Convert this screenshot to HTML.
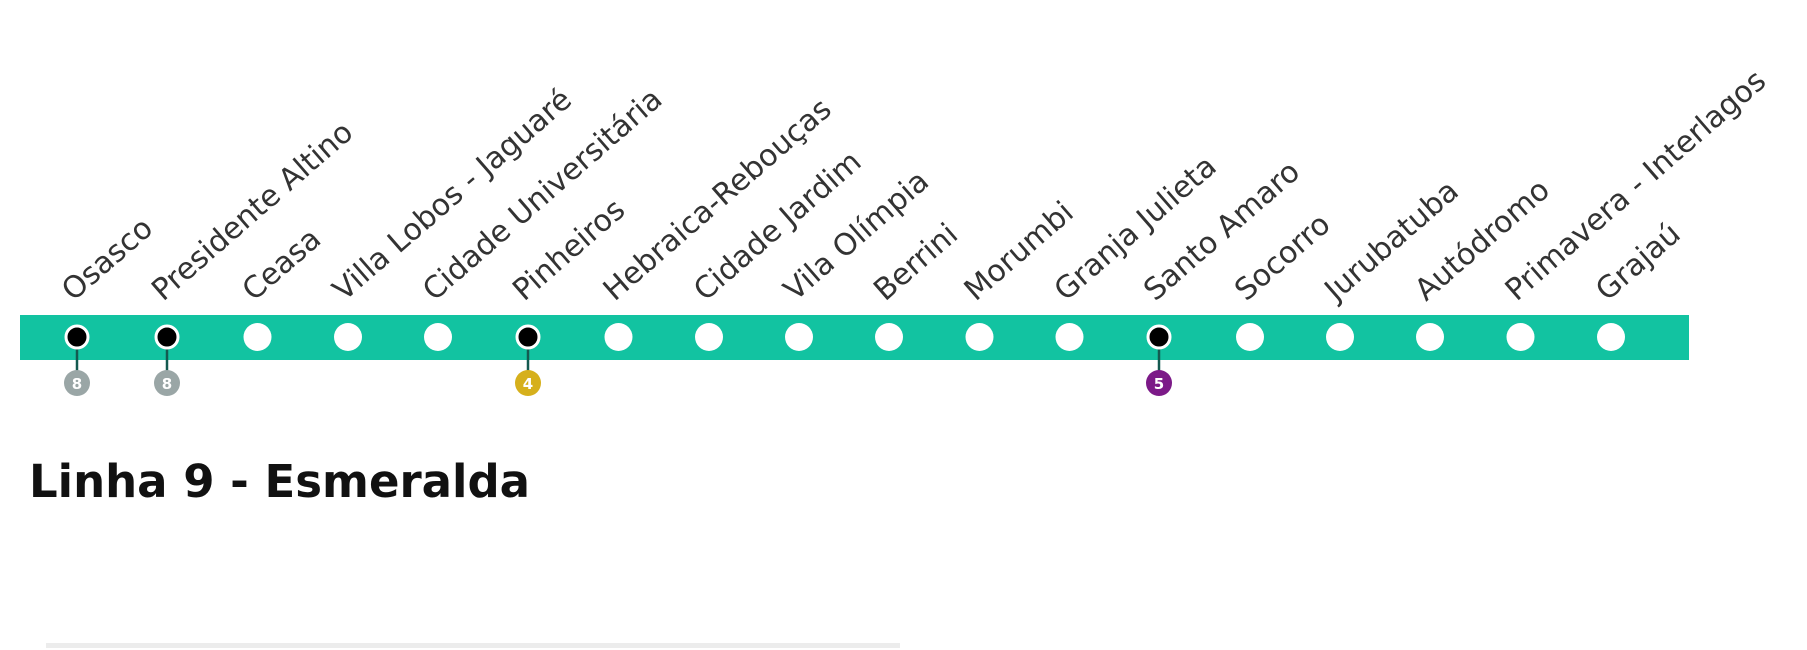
<!DOCTYPE html>
<html><head><meta charset="utf-8"><style>
html,body{margin:0;padding:0;background:#fff;width:1807px;height:650px;overflow:hidden}
svg{display:block}
text{font-family:"DejaVu Sans","Liberation Sans",sans-serif}
</style></head><body>
<svg width="1807" height="650" viewBox="0 0 1807 650" xmlns="http://www.w3.org/2000/svg">
<rect x="20" y="315" width="1669" height="45" fill="#12c3a1"/>
<g stroke="#145a50" stroke-width="2.5">
<line x1="77" y1="337" x2="77" y2="383"/>
<line x1="167" y1="337" x2="167" y2="383"/>
<line x1="528" y1="337" x2="528" y2="383"/>
<line x1="1159" y1="337" x2="1159" y2="383"/>
</g>
<g fill="#fff">
<circle cx="257.5" cy="337" r="14"/><circle cx="348" cy="337" r="14"/><circle cx="438" cy="337" r="14"/>
<circle cx="618.5" cy="337" r="14"/><circle cx="709" cy="337" r="14"/><circle cx="799" cy="337" r="14"/>
<circle cx="889" cy="337" r="14"/><circle cx="979.5" cy="337" r="14"/><circle cx="1069.5" cy="337" r="14"/>
<circle cx="1250" cy="337" r="14"/><circle cx="1340" cy="337" r="14"/><circle cx="1430" cy="337" r="14"/>
<circle cx="1520.5" cy="337" r="14"/><circle cx="1611" cy="337" r="14"/>
</g>
<g fill="#000" stroke="#fff" stroke-width="3">
<circle cx="77" cy="337" r="11"/><circle cx="167" cy="337" r="11"/><circle cx="528" cy="337" r="11"/><circle cx="1159" cy="337" r="11"/>
</g>
<g font-size="15" font-weight="bold" fill="#fff" text-anchor="middle">
<circle cx="77" cy="383" r="13" fill="#9aa6a6"/><text x="77" y="389">8</text>
<circle cx="167" cy="383" r="13" fill="#9aa6a6"/><text x="167" y="389">8</text>
<circle cx="528" cy="383" r="13" fill="#d6b01c"/><text x="528" y="389">4</text>
<circle cx="1159" cy="383" r="13" fill="#7c1a88"/><text x="1159" y="389">5</text>
</g>
<g font-size="30" fill="#333">
<text transform="translate(73,302) rotate(-41)">Osasco</text>
<text transform="translate(163,302) rotate(-41)">Presidente Altino</text>
<text transform="translate(253.5,302) rotate(-41)">Ceasa</text>
<text transform="translate(344,302) rotate(-41)">Villa Lobos - Jaguaré</text>
<text transform="translate(434,302) rotate(-41)">Cidade Universitária</text>
<text transform="translate(524,302) rotate(-41)">Pinheiros</text>
<text transform="translate(614.5,302) rotate(-41)">Hebraica-Rebouças</text>
<text transform="translate(705,302) rotate(-41)">Cidade Jardim</text>
<text transform="translate(795,302) rotate(-41)">Vila Olímpia</text>
<text transform="translate(885,302) rotate(-41)">Berrini</text>
<text transform="translate(975.5,302) rotate(-41)">Morumbi</text>
<text transform="translate(1065.5,302) rotate(-41)">Granja Julieta</text>
<text transform="translate(1155,302) rotate(-41)">Santo Amaro</text>
<text transform="translate(1246,302) rotate(-41)">Socorro</text>
<text transform="translate(1336,302) rotate(-41)">Jurubatuba</text>
<text transform="translate(1426,302) rotate(-41)">Autódromo</text>
<text transform="translate(1516.5,302) rotate(-41)">Primavera - Interlagos</text>
<text transform="translate(1607,302) rotate(-41)">Grajaú</text>
</g>
<text x="29" y="497" font-size="45" font-weight="bold" fill="#111">Linha 9 - Esmeralda</text>
<rect x="46" y="643" width="854" height="5" fill="#ececec"/>
</svg>
</body></html>
